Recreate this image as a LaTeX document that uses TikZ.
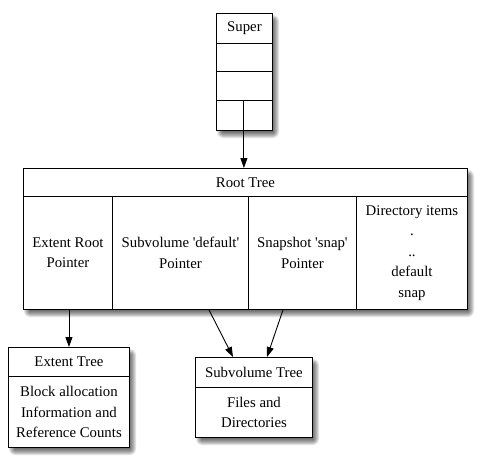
\documentclass[tikz,border=0pt]{standalone}
\usepackage{fontspec}
\setmainfont{Liberation Serif}
\usetikzlibrary{arrows.meta}

% one cell of a record: name, x, y (top left), width, height, text
\providecommand{\reccell}[6]{
    \node[cell, minimum width=#4pt, minimum height=#5pt] (#1) at (#2,#3) {#6};
}
% outer frame of a record with its soft shadow
\providecommand{\recbox}[5]{
    \foreach \b in {0,...,6}{
        \fill[black, opacity=0.11, rounded corners=\b pt]
            (#2+7-\b, #3+8-\b) rectangle (#2+#4+1+\b, #3+#5+2+\b);
    }
    \node[rec, minimum width=#4pt, minimum height=#5pt] (#1) at (#2,#3) {};
}

\begin{document}
\begin{tikzpicture}[
    x=1pt, y=-1pt,
    >={Triangle[length=10pt, width=7pt]},
    rec/.style={draw, fill=white, line width=0.9pt, inner sep=0pt, anchor=north west},
    cell/.style={draw, line width=0.9pt, inner sep=0pt, anchor=north west, align=center,
        font=\fontsize{14.8}{20.5}\selectfont},
    link/.style={->, line width=0.9pt}
]
    \useasboundingbox (0,0) rectangle (480,463);

    % SUPER BLOCK
    \recbox{superbox}{216}{13}{56}{117}
    \reccell{super}{216}{13}{56}{30}{Super}
    \reccell{superb}{216}{43}{56}{28}{}
    \reccell{superc}{216}{71}{56}{29}{}
    \reccell{superl}{216}{100}{27}{30}{}
    \reccell{superr}{243}{100}{29}{30}{}

    % ROOT TREE
    \recbox{rootbox}{23}{168}{444}{141}
    \reccell{root}{23}{168}{444}{28}{Root Tree}
    \reccell{extptr}{23}{196}{89}{113}{Extent Root\\Pointer}
    \reccell{subptr}{112}{196}{136}{113}{Subvolume \textquotesingle default\textquotesingle\\Pointer}
    \reccell{snapptr}{248}{196}{108}{113}{Snapshot \textquotesingle snap\textquotesingle\\Pointer}
    \reccell{diritems}{356}{196}{111}{113}{Directory items\\.\\..\\default\\snap}

    % EXTENT TREE
    \recbox{extbox}{8}{347}{121}{100}
    \reccell{ext}{8}{347}{121}{29}{Extent Tree}
    \reccell{extbody}{8}{376}{121}{71}{Block allocation\\Information and\\Reference Counts}

    % SUBVOLUME TREE
    \recbox{subbox}{195}{357}{117}{80}
    \reccell{subvol}{195}{357}{117}{30}{Subvolume Tree}
    \reccell{subbody}{195}{387}{117}{50}{Files and\\Directories}

    % LINKS
    \draw[link] (superl.north east) -- (superl.north east |- root.north);
    \draw[link] (extptr.south -| ext.north) -- (ext.north);
    \draw[link] ([xshift=97pt]subptr.south west) -- ([xshift=38pt]subvol.north west);
    \draw[link] ([xshift=35pt]snapptr.south west) -- ([xshift=72pt]subvol.north west);
\end{tikzpicture}
\end{document}
